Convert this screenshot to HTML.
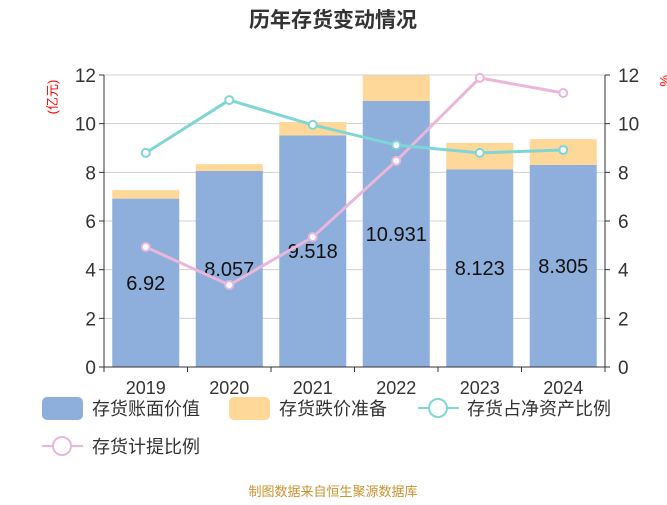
<!DOCTYPE html>
<html><head><meta charset="utf-8"><style>
body{margin:0;background:#fff;}
svg text{font-family:"Liberation Sans","Noto Sans CJK SC",sans-serif;}
</style></head><body>
<svg width="667" height="500" xmlns="http://www.w3.org/2000/svg">
<text x="333" y="27" text-anchor="middle" font-size="21" font-weight="bold" fill="#333">历年存货变动情况</text>
<text transform="translate(57,97) rotate(-90)" text-anchor="middle" font-size="13" fill="#f00">(亿元)</text>
<text transform="translate(660,75) rotate(90)" font-size="13" fill="#f00">%</text>
<g id="grid"></g><g id="bars"></g><g id="lines"></g><g id="axes"></g>
<g font-size="18" fill="#333">
<rect x="42" y="397" width="41" height="23" rx="5" fill="#8eaedb"/>
<text x="92" y="415">存货账面价值</text>
<rect x="229" y="397" width="41" height="23" rx="5" fill="#fed898"/>
<text x="279" y="415">存货跌价准备</text>
<line x1="418" y1="408" x2="459" y2="408" stroke="#80d5d6" stroke-width="2"/>
<circle cx="438" cy="408" r="9" fill="#fff" stroke="#80d5d6" stroke-width="2"/>
<text x="467" y="415">存货占净资产比例</text>
<line x1="42" y1="446" x2="83" y2="446" stroke="#e9b7d9" stroke-width="2"/>
<circle cx="62" cy="446" r="9" fill="#fff" stroke="#e9b7d9" stroke-width="2"/>
<text x="92" y="453">存货计提比例</text>
</g>
<text x="333" y="496" text-anchor="middle" font-size="13" fill="#c8922e">制图数据来自恒生聚源数据库</text>
</svg>
<script>
const categories=["2019","2020","2021","2022","2023","2024"];
const bookValue=[6.92,8.057,9.518,10.931,8.123,8.305];
const reserve=[0.35,0.28,0.55,1.05,1.09,1.06];
const netAssetRatio=[8.8,10.97,9.95,9.12,8.8,8.92];
const provisionRatio=[4.93,3.37,5.34,8.47,11.88,11.26];
const yTicks=[0,2,4,6,8,10,12];
const NS="http://www.w3.org/2000/svg";
const L=104,R=605,T=75,B=367,yMax=12;
const band=(R-L)/categories.length;
const x=i=>L+band*(i+0.5);
const y=v=>B-(v/yMax)*(B-T);
function mk(tag,attrs,parent,txt){const e=document.createElementNS(NS,tag);for(const k in attrs)e.setAttribute(k,attrs[k]);if(txt!==undefined)e.textContent=txt;document.getElementById(parent).appendChild(e);return e;}
yTicks.forEach(t=>{
 const g=mk('line',{x1:L,x2:R,y1:y(t),y2:y(t),stroke:'#d0d0d0','stroke-width':1},'grid');
 
 
 const a=mk('text',{x:L-8,y:y(t)+7,'text-anchor':'end','font-size':19,fill:'#333'},'axes',t);
 
 
 const b=mk('text',{x:R+13,y:y(t)+7,'font-size':19,fill:'#333'},'axes',t);
 
 
 mk('line',{x1:L-5,x2:L,y1:y(t),y2:y(t),stroke:'#333'},'axes');
 mk('line',{x1:R,x2:R+5,y1:y(t),y2:y(t),stroke:'#333'},'axes');
});
const bw=67;
categories.forEach((c,i)=>{
 const b1=mk('rect',{x:x(i)-bw/2,y:y(bookValue[i]),width:bw,height:B-y(bookValue[i]),fill:'#8eaedb'},'bars');
 
 
 const top=bookValue[i]+reserve[i];
 const b2=mk('rect',{x:x(i)-bw/2,y:y(top),width:bw,height:y(bookValue[i])-y(top),fill:'#fed898'},'bars');
 
 
 const lb=mk('text',{x:x(i),y:(y(bookValue[i])+B)/2+7,'text-anchor':'middle','font-size':20,fill:'#111'},'bars',bookValue[i]);
 
 
 const xl=mk('text',{x:x(i),y:394,'text-anchor':'middle','font-size':18,fill:'#333'},'axes',c);
 
 
});
for(let i=0;i<=categories.length;i++) mk('line',{x1:L+band*i,x2:L+band*i,y1:B,y2:B+5,stroke:'#333'},'axes');
mk('line',{x1:L,x2:L,y1:T,y2:B,stroke:'#333'},'axes');
mk('line',{x1:R,x2:R,y1:T,y2:B,stroke:'#333'},'axes');
mk('line',{x1:L,x2:R,y1:B,y2:B,stroke:'#333'},'axes');
function series(vals,color,name){
 const p=mk('polyline',{points:vals.map((v,i)=>x(i)+','+y(v)).join(' '),fill:'none',stroke:color,'stroke-width':3},'lines');
 
 
 vals.forEach((v,i)=>{
  const d=mk('circle',{cx:x(i),cy:y(v),r:4,fill:'#fff',stroke:color,'stroke-width':2},'lines');
  
  
 });
}
series(provisionRatio,'#e9b7d9','provision-ratio');
series(netAssetRatio,'#80d5d6','net-asset-ratio');
</script>
</body></html>
